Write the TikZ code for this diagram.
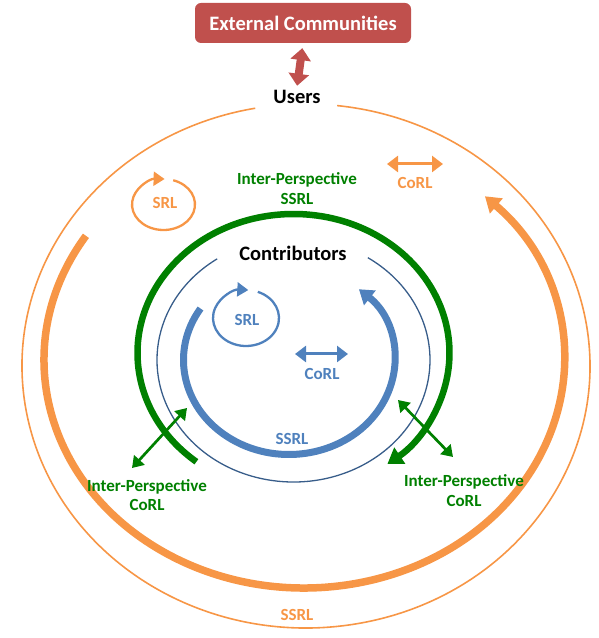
\documentclass[tikz,border=0pt]{standalone}
\usepackage{fontspec}
\setmainfont{Carlito}
\usetikzlibrary{arrows.meta, positioning}

\definecolor{usrorange}{HTML}{F79646}
\definecolor{ctbblue}{HTML}{4F81BD}
\definecolor{ringblue}{HTML}{385D8A}
\definecolor{ipgreen}{HTML}{008000}
\definecolor{extred}{HTML}{C0504D}

\tikzset{
    bigtext/.style={font=\fontsize{20.5}{24}\selectfont\bfseries},
    smalltext/.style={font=\fontsize{17}{19.5}\selectfont\bfseries, align=center, inner sep=1pt},
    loopline/.style={line width=2.3pt, -{Triangle[width=14pt,length=11pt]}},
    corlarrow/.style={line width=3pt, {Triangle[width=16pt,length=11pt]}-{Triangle[width=16pt,length=11pt]}},
    iparrow/.style={ipgreen, line width=2.7pt, {Triangle[width=14pt,length=11pt]}-{Triangle[width=14pt,length=11pt]}},
}

\begin{document}
\begin{tikzpicture}[x=1pt,y=1pt]
    \useasboundingbox (0,0) rectangle (599,638);

    % centres of the rings
    \coordinate (usrc) at (306,272);
    \coordinate (usrthick) at (304,278);
    \coordinate (ipc) at (293.5,285);
    \coordinate (ctbc) at (293.5,278);
    \coordinate (ctbthick) at (289,278);

    % external communities and users
    \node[bigtext, fill=extred, text=white, rounded corners=6pt,
          minimum width=216pt, minimum height=40pt] (extcom) at (303,615) {External Communities};
    \node[bigtext] (users) at (297,541) {Users};
    \draw[extred, line width=8pt, shorten <=5pt, shorten >=1pt,
          {Triangle[width=20pt,length=12pt]}-{Triangle[width=20pt,length=12pt]}] (extcom.south) -- (users.north);

    % users ring
    \draw[usrorange, line width=1.6pt] (usrc) ++(100.3:284pt and 262pt)
        arc[start angle=100.3, end angle=443.7, x radius=284pt, y radius=262pt];
    \draw[usrorange, line width=7.5pt, -{Triangle[width=19pt,length=15pt]}] (usrthick) ++(147:260pt and 228pt)
        arc[start angle=147, end angle=405.9, x radius=260pt, y radius=228pt];
    \node[smalltext, text=usrorange] (usrssrl) at (297,23) {SSRL};

    \coordinate (usrsrlc) at (163.5,433.5);
    \draw[usrorange, loopline] (usrsrlc) ++(72:31.5pt and 25.5pt)
        arc[start angle=72, end angle=-272, x radius=31.5pt, y radius=25.5pt];
    \node[smalltext, text=usrorange] (usrsrl) at (165,435) {SRL};

    \coordinate (usrcorla) at (387,474);
    \coordinate (usrcorlb) at (443,474);
    \draw[usrorange, corlarrow] (usrcorla) -- (usrcorlb);
    \node[smalltext, text=usrorange] (usrcorl) at (415,455) {CoRL};

    % inter-perspective ring
    \draw[ipgreen, line width=6.5pt, -{Triangle[width=19pt,length=15pt]}] (ipc) ++(231.5:156pt and 139pt)
        arc[start angle=231.5, end angle=-53, x radius=156pt, y radius=139pt];
    \node[smalltext, text=ipgreen] (ipssrl) at (297,449.5) {Inter-Perspective\\SSRL};

    % contributors ring
    \draw[ringblue, line width=1.3pt] (ctbc) ++(124:136.5pt and 122pt)
        arc[start angle=124, end angle=417, x radius=136.5pt, y radius=122pt];
    \node[bigtext] (contrib) at (293,385) {Contributors};
    \draw[ctbblue, line width=7pt, -{Triangle[width=18pt,length=14pt]}] (ctbthick) ++(147:105.5pt and 94.5pt)
        arc[start angle=147, end angle=408.5, x radius=105.5pt, y radius=94.5pt];
    \node[smalltext, text=ctbblue] (ctbssrl) at (292,199) {SSRL};

    \coordinate (ctbsrlc) at (246,320);
    \draw[ctbblue, loopline] (ctbsrlc) ++(69:33pt and 28pt)
        arc[start angle=69, end angle=-274, x radius=33pt, y radius=28pt];
    \node[smalltext, text=ctbblue] (ctbsrl) at (247,318) {SRL};

    \coordinate (ctbcorla) at (295,284);
    \coordinate (ctbcorlb) at (348,284);
    \draw[ctbblue, corlarrow] (ctbcorla) -- (ctbcorlb);
    \node[smalltext, text=ctbblue] (ctbcorl) at (322,264) {CoRL};

    % inter-perspective co-regulation
    \coordinate (ipla) at (132,170);
    \coordinate (iplb) at (187,230);
    \draw[iparrow] (ipla) -- (iplb);
    \node[smalltext, text=ipgreen] (ipcorll) at (147,143) {Inter-Perspective\\CoRL};

    \coordinate (ipra) at (398,238);
    \coordinate (iprb) at (453,181);
    \draw[iparrow] (ipra) -- (iprb);
    \node[smalltext, text=ipgreen] (ipcorlr) at (464,147.5) {Inter-Perspective\\CoRL};
\end{tikzpicture}
\end{document}
